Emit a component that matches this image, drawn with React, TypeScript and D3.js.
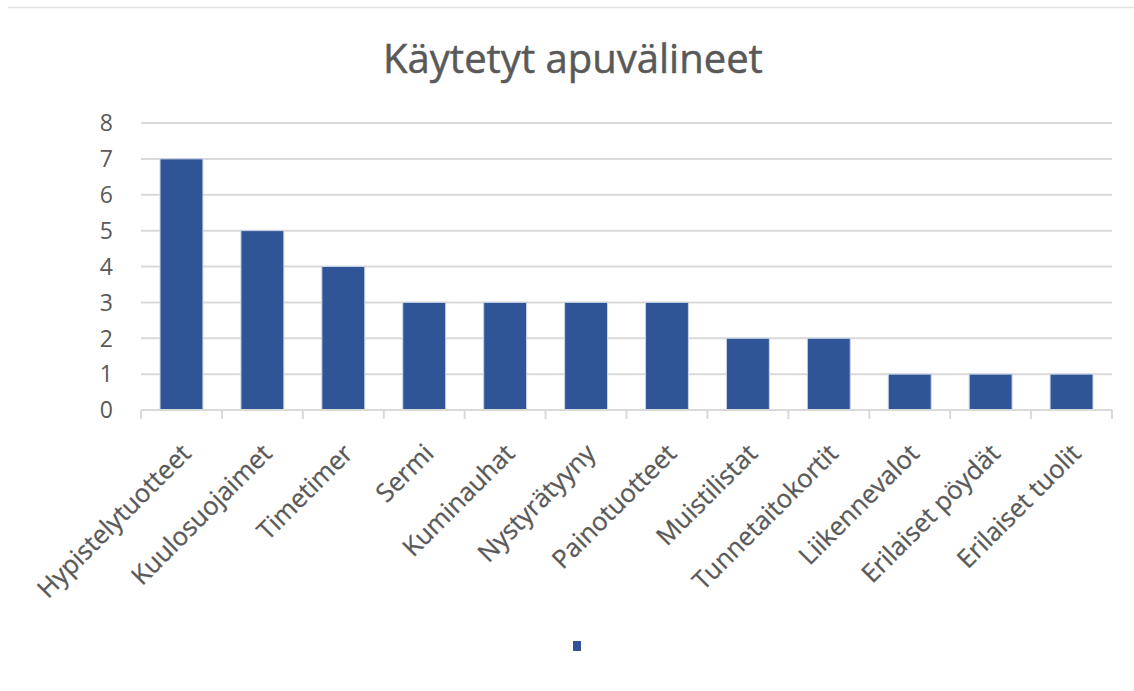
import React from "react";
import * as d3 from "d3";

const categories = [
  "Hypistelytuotteet",
  "Kuulosuojaimet",
  "Timetimer",
  "Sermi",
  "Kuminauhat",
  "Nystyrätyyny",
  "Painotuotteet",
  "Muistilistat",
  "Tunnetaitokortit",
  "Liikennevalot",
  "Erilaiset pöydät",
  "Erilaiset tuolit",
];
const values = [7, 5, 4, 3, 3, 3, 3, 2, 2, 1, 1, 1];
const yTicks = [0, 1, 2, 3, 4, 5, 6, 7, 8];
const title = "Käytetyt apuvälineet";

const W = 1134;
const H = 691;
const plot = { left: 141, right: 1112, top: 123, bottom: 410 };
const FONT = "'Open Sans', 'Noto Sans', sans-serif";
const BAR = "#2F5597";
const GRID = "#D9D9D9";
const TEXT = "#595959";

export default function App() {
  const x = d3
    .scaleBand<string>()
    .domain(categories)
    .range([plot.left, plot.right])
    .paddingInner(0.47)
    .paddingOuter(0.235);
  const y = d3.scaleLinear().domain([0, 8]).range([plot.bottom, plot.top]);
  const bandStep = (plot.right - plot.left) / categories.length;
  const tickXs = d3.range(categories.length + 1).map((i) => plot.left + i * bandStep);

  return (
    <svg
      width={W}
      height={H}
      style={{ position: "absolute", left: 0, top: 0, background: "#fff" }}
      fontFamily={FONT}
    >
      <rect x={0} y={0} width={W} height={H} fill="#fff" />
      <line x1={8} x2={W} y1={7.5} y2={7.5} stroke="#E3E3E3" strokeWidth={1.5} />

      <text
        x={573}
        y={73}
        textAnchor="middle"
        fontSize={40}
        fill={TEXT}
        stroke={TEXT}
        strokeWidth={0.5}
      >
        {title}
      </text>

      {yTicks.map((t) => (
        <g key={t}>
          {t > 0 && (
            <line
              x1={plot.left}
              x2={plot.right}
              y1={y(t)}
              y2={y(t)}
              stroke={GRID}
              strokeWidth={2}
            />
          )}
          <text
            x={113}
            y={y(t)}
            dy="0.36em"
            textAnchor="end"
            fontSize={23}
            fill={TEXT}
          >
            {t}
          </text>
        </g>
      ))}

      {categories.map((c, i) => (
        <rect
          key={c}
          x={x(c)}
          y={y(values[i])}
          width={x.bandwidth()}
          height={y(0) - y(values[i])}
          fill={BAR}
          stroke="#C9D3E6"
          strokeWidth={1}
        />
      ))}

      <line x1={plot.left} x2={plot.right} y1={y(0)} y2={y(0)} stroke={GRID} strokeWidth={2} />
      {tickXs.map((tx, i) => (
        <line key={i} x1={tx} x2={tx} y1={y(0)} y2={y(0) + 9} stroke={GRID} strokeWidth={2} />
      ))}

      {categories.map((c) => {
        const cx = (x(c) ?? 0) + x.bandwidth() / 2;
        return (
          <text
            key={c}
            transform={`translate(${cx + 11},${y(0) + 45}) rotate(-45)`}
            textAnchor="end"
            fontSize={25.5}
            fill={TEXT}
            stroke={TEXT}
            strokeWidth={0.3}
          >
            {c}
          </text>
        );
      })}

      <rect x={573} y={641} width={8} height={10} fill={BAR} />
    </svg>
  );
}
